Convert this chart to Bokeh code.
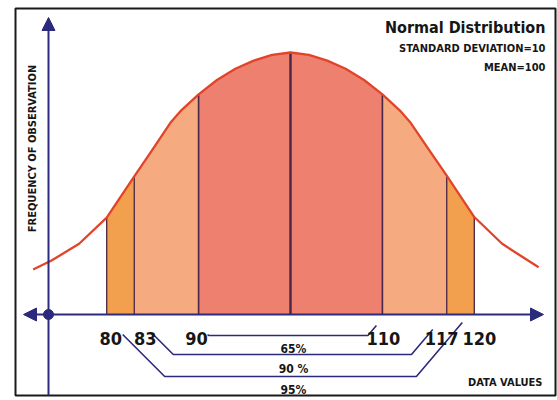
import numpy as np
from bokeh.plotting import figure
from bokeh.models import Range1d, Arrow, NormalHead
from bokeh.core.properties import value
from bokeh.embed import file_html
from bokeh.resources import INLINE

# ---------------- data ----------------
mean = 100
std_dev = 10
# traced curve: data value -> frequency (percent of peak height)
curve_x = [72, 74, 77, 80, 83, 85, 87, 88, 90, 92, 94, 96, 98, 100,
           102, 104, 106, 108, 110, 112, 113, 115, 117, 120, 123, 125, 127]
curve_y = [17.2, 20.6, 27.0, 37.0, 52.7, 63.0, 73.5, 77.5, 84.0, 89.5, 93.8, 96.9, 99.1, 100.0,
           99.1, 96.9, 93.8, 89.5, 84.0, 77.5, 73.5, 63.2, 53.0, 37.2, 27.1, 22.5, 18.0]
bounds = [80, 83, 90, 100, 110, 117, 120]
tick_values = [80, 83, 90, 110, 117, 120]
tick_labels = ["80", "83", "90", "110", "117", "120"]
interval_lo = [90, 83, 80]
interval_hi = [110, 117, 120]
interval_labels = ["65%", "90 %", "95%"]
title_text = "Normal Distribution"
subtitle_lines = ["STANDARD DEVIATION=10", "MEAN=100"]
x_title = "DATA VALUES"
y_title = "FREQUENCY OF OBSERVATION"

# ---------------- layout helpers (canvas pixels -> data) ----------------
K = 9.19      # px per data unit
KY = 2.62     # px per frequency unit
CX, AXY = 290, 314


def xd(px):
    return mean + (px - CX) / K


def yd(py):
    return (AXY - py) / KY


FONT = value("DejaVu Sans Condensed, Liberation Sans, sans-serif")
NAVY = "#2b2a7c"
INK = "#161616"

p = figure(width=557, height=400, output_backend="svg", toolbar_location=None,
           x_range=Range1d(xd(15), xd(555)), y_range=Range1d(yd(395), yd(8)),
           x_axis_location=None, y_axis_location=None,
           min_border_left=15, min_border_right=2, min_border_top=8, min_border_bottom=5)
p.grid.visible = False
p.outline_line_color = "#1a1a1a"
p.outline_line_width = 2
p.background_fill_color = "white"
p.border_fill_color = "white"

cx = np.array(curve_x, dtype=float)
cy = np.array(curve_y, dtype=float)

# shaded bands
band_colors = ["#f2a04e", "#f5aa80", "#ee8070", "#ee8070", "#f5aa80", "#f2a04e"]
for a, b, c in zip(bounds[:-1], bounds[1:], band_colors):
    m = (cx >= a) & (cx <= b)
    p.varea(x=cx[m], y1=0, y2=cy[m], fill_color=c, fill_alpha=1.0)

# boundary lines
bound_h = [float(cy[cx == b][0]) for b in bounds]
p.segment(x0=bounds, y0=[0] * len(bounds), x1=bounds, y1=bound_h,
          line_color="#4a2446", line_width=[1.3, 1.3, 1.6, 2.4, 1.6, 1.3, 1.3])

# curve
p.line(cx, cy, line_color="#e2442a", line_width=2.3, line_join="round")

# axes with arrows
ax_x = xd(48)
p.add_layout(Arrow(end=NormalHead(size=13, fill_color=NAVY, line_color=NAVY),
                   x_start=ax_x, y_start=yd(395), x_end=ax_x, y_end=yd(17),
                   line_color=NAVY, line_width=2))
p.add_layout(Arrow(start=NormalHead(size=13, fill_color=NAVY, line_color=NAVY),
                   end=NormalHead(size=13, fill_color=NAVY, line_color=NAVY),
                   x_start=xd(23), y_start=0, x_end=xd(543), y_end=0,
                   line_color=NAVY, line_width=2))
p.scatter([ax_x], [0], size=10, color=NAVY)

# interval brackets
levels = [335, 354, 376]
start_off = [9, 19, 16]     # px from lower bound
tip_off = [6, 14, 12]       # px from upper bound
tip_py = [325, 329, 322]
for lo, hi, lv, so, to, tp in zip(interval_lo, interval_hi, levels, start_off, tip_off, tip_py):
    lo_px = CX + (lo - mean) * K
    hi_px = CX + (hi - mean) * K
    sx, sy = lo_px + so, min(334, lv)
    c1x = sx + (lv - sy)
    tx = hi_px - to
    c2x = tx - (lv - tp) * 0.85
    xs = [xd(sx), xd(c1x), xd(c2x), xd(tx)]
    ys = [yd(sy), yd(lv), yd(lv), yd(tp)]
    p.line(xs, ys, line_color=NAVY, line_width=1.6)

# tick labels
p.text(x=tick_values, y=[yd(338)] * len(tick_values), text=tick_labels,
       text_font=FONT, text_font_style="bold", text_font_size="18px",
       text_color=INK, text_align="center", text_baseline="alphabetic",
       x_offset=[4, 11, -2, 1, -5, 5])

# percentage labels
p.text(x=[mean] * 3, y=[yd(348), yd(368), yd(389)], text=interval_labels,
       text_font=FONT, text_font_style="bold", text_font_size="12px",
       text_color=INK, text_align="center", text_baseline="alphabetic", x_offset=3)

# titles
p.text(x=[xd(545)], y=[yd(27)], text=[title_text], text_font=FONT, text_font_style="bold",
       text_font_size="16px", text_color=INK, text_align="right", text_baseline="alphabetic")
p.text(x=[xd(545)] * 2, y=[yd(48), yd(67)], text=subtitle_lines, text_font=FONT,
       text_font_style="bold", text_font_size="11px", text_color=INK,
       text_align="right", text_baseline="alphabetic")
p.text(x=[xd(542)], y=[yd(382)], text=[x_title], text_font=FONT, text_font_style="bold",
       text_font_size="11px", text_color=INK, text_align="right", text_baseline="alphabetic")
p.text(x=[xd(32)], y=[yd(148)], text=[y_title], angle=np.pi / 2, text_font=FONT,
       text_font_style="bold", text_font_size="11px", text_color=INK,
       text_align="center", text_baseline="middle")

open("out.html", "w").write(file_html(p, INLINE))
